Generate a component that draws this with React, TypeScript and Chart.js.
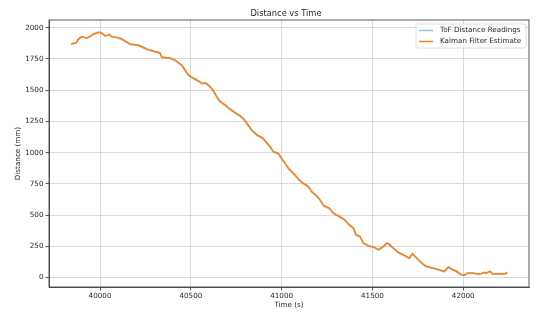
import React, { useEffect, useRef } from "react";
import { Chart, registerables } from "chart.js";

Chart.register(...registerables);

const titleText = "Distance vs Time";
const xLabel = "Time (s)";
const yLabel = "Distance (mm)";
const seriesNames = ["ToF Distance Readings", "Kalman Filter Estimate"];

const times = [
  39840, 39868, 39881, 39899, 39912, 39927, 39945, 39963, 39985, 40000,
  40015, 40028, 40040, 40051, 40064, 40092, 40119, 40143, 40165, 40211,
  40235, 40257, 40303, 40330, 40340, 40385, 40418, 40440, 40450, 40468,
  40486, 40514, 40532, 40560, 40584, 40606, 40624, 40642, 40661, 40688,
  40716, 40743, 40771, 40793, 40811, 40835, 40863, 40896, 40918, 40936,
  40954, 40982, 41000, 41019, 41037, 41055, 41074, 41092, 41119, 41147,
  41165, 41193, 41211, 41233, 41263, 41285, 41312, 41344, 41373, 41395,
  41410, 41432, 41450, 41478, 41509, 41533, 41560, 41579, 41590, 41615,
  41643, 41670, 41703, 41720, 41735, 41762, 41790, 41817, 41854, 41894,
  41918, 41936, 41964, 41991, 42010, 42023, 42056, 42083, 42101, 42112,
  42127, 42148, 42160, 42203, 42230, 42243,
];

const kalman = [
  1872, 1877, 1909, 1930, 1925, 1917, 1930, 1949, 1962, 1962,
  1952, 1936, 1939, 1947, 1930, 1925, 1912, 1891, 1870, 1862,
  1846, 1830, 1810, 1800, 1766, 1758, 1739, 1712, 1704, 1664,
  1624, 1597, 1584, 1557, 1557, 1530, 1498, 1450, 1410, 1384,
  1350, 1322, 1296, 1270, 1232, 1184, 1144, 1118, 1082, 1050,
  1010, 995, 955, 917, 877, 850, 824, 789, 757, 731,
  691, 656, 624, 576, 557, 517, 496, 469, 424, 397,
  344, 330, 277, 256, 245, 224, 250, 277, 272, 237,
  203, 184, 157, 192, 171, 131, 96, 83, 70, 51,
  85, 70, 51, 24, 24, 37, 37, 29, 32, 43,
  37, 51, 32, 32, 32, 43,
];

const tof = [
  1868, 1880, 1905, 1927, 1922, 1920, 1933, 1945, 1960, 1965,
  1948, 1933, 1942, 1944, 1928, 1921, 1905, 1885, 1866, 1858,
  1840, 1827, 1806, 1795, 1762, 1755, 1733, 1706, 1698, 1658,
  1619, 1592, 1578, 1551, 1552, 1524, 1492, 1444, 1404, 1378,
  1344, 1317, 1290, 1263, 1226, 1178, 1139, 1112, 1076, 1044,
  1005, 990, 949, 911, 871, 845, 818, 783, 751, 726,
  685, 650, 619, 570, 551, 512, 490, 463, 418, 392,
  338, 325, 271, 251, 240, 220, 246, 274, 266, 231,
  197, 178, 152, 188, 165, 125, 91, 78, 65, 46,
  80, 64, 45, 19, 21, 34, 33, 25, 30, 40,
  34, 48, 29, 30, 29, 41,
];

const xTicks = [40000, 40500, 41000, 41500, 42000];
const yTicks = [0, 250, 500, 750, 1000, 1250, 1500, 1750, 2000];

const FONT = "'DejaVu Sans', sans-serif";
const TEXT = "#262626";

export default function App() {
  const ref = useRef<HTMLCanvasElement>(null);

  useEffect(() => {
    document.body.style.margin = "0";
    const canvas = ref.current;
    if (!canvas) return;

    const decor = {
      id: "decor",
      afterDraw(chart: any) {
        const ctx = chart.ctx;
        const a = chart.chartArea;
        ctx.save();
        ctx.strokeStyle = "#333333";
        ctx.lineWidth = 0.8;
        ctx.strokeRect(a.left, a.top, a.right - a.left, a.bottom - a.top);
        ctx.fillStyle = TEXT;
        ctx.font = `8.3px ${FONT}`;
        ctx.textAlign = "center";
        ctx.textBaseline = "alphabetic";
        ctx.fillText(titleText, (a.left + a.right) / 2 - 3, 16);
        const bx = 416, by = 24, bw = 110, bh = 24;
        ctx.fillStyle = "rgba(255,255,255,0.85)";
        ctx.strokeStyle = "#d6d6d6";
        ctx.lineWidth = 0.8;
        ctx.beginPath();
        (ctx as any).roundRect(bx, by, bw, bh, 2);
        ctx.fill();
        ctx.stroke();
        chart.data.datasets.forEach((ds: any, i: number) => {
          const y = 30.5 + i * 11;
          ctx.strokeStyle = ds.borderColor;
          ctx.lineWidth = 1.5;
          ctx.beginPath();
          ctx.moveTo(419, y);
          ctx.lineTo(433, y);
          ctx.stroke();
          ctx.fillStyle = TEXT;
          ctx.font = `7.2px ${FONT}`;
          ctx.textAlign = "left";
          ctx.textBaseline = "middle";
          ctx.fillText(ds.label, 440, y);
        });
        ctx.restore();
      },
    };

    const chart = new Chart(canvas, {
      type: "line",
      data: {
        datasets: [
          {
            label: seriesNames[0],
            data: times.map((t, i) => ({ x: t, y: tof[i] })),
            borderColor: "rgba(31,119,180,0.45)",
            borderWidth: 1.5,
            pointRadius: 0,
            tension: 0,
            order: 2,
          },
          {
            label: seriesNames[1],
            data: times.map((t, i) => ({ x: t, y: kalman[i] })),
            borderColor: "#ff7f0e",
            borderWidth: 1.5,
            pointRadius: 0,
            tension: 0,
            order: 1,
          },
        ],
      },
      options: {
        animation: false,
        responsive: false,
        maintainAspectRatio: false,
        layout: { padding: { top: 20, right: 16, left: 0, bottom: 0 } },
        plugins: {
          legend: { display: false },
          title: { display: false },
          tooltip: { enabled: false },
        },
        scales: {
          x: {
            type: "linear",
            min: 39719,
            max: 42362,
            afterBuildTicks: (s: any) => {
              s.ticks = xTicks.map((v) => ({ value: v }));
            },
            afterFit: (s: any) => {
              s.height = 30;
            },
            ticks: {
              autoSkip: false,
              maxRotation: 0,
              padding: 1.5,
              color: TEXT,
              font: { family: FONT, size: 7.2 },
              callback: (v: any) => String(v),
            },
            grid: {
              color: "#d0d0d0",
              lineWidth: 0.8,
              tickColor: "#333333",
              tickLength: 3.5,
            },
            border: { display: true, color: "#333333", width: 0.8 },
            title: {
              display: true,
              text: xLabel,
              color: TEXT,
              font: { family: FONT, size: 7.2 },
              padding: { top: 0, bottom: 7.5 },
            },
          },
          y: {
            type: "linear",
            min: -75,
            max: 2062,
            afterBuildTicks: (s: any) => {
              s.ticks = yTicks.map((v) => ({ value: v }));
            },
            afterFit: (s: any) => {
              s.width = 49;
            },
            ticks: {
              autoSkip: false,
              padding: 2,
              color: TEXT,
              font: { family: FONT, size: 7.2 },
              callback: (v: any) => String(v),
            },
            grid: {
              color: "#d0d0d0",
              lineWidth: 0.8,
              tickColor: "#333333",
              tickLength: 3.5,
            },
            border: { display: true, color: "#333333", width: 0.8 },
            title: {
              display: true,
              text: yLabel,
              color: TEXT,
              font: { family: FONT, size: 7.2 },
              padding: { top: 13.5, bottom: 0 },
            },
          },
        },
      },
      plugins: [decor],
    });

    return () => chart.destroy();
  }, []);

  return (
    <canvas
      ref={ref}
      width={545}
      height={317}
      style={{ display: "block", width: 545, height: 317 }}
    />
  );
}
